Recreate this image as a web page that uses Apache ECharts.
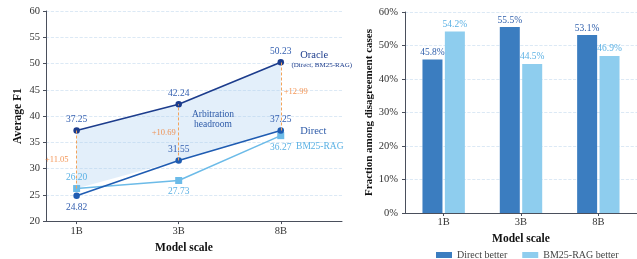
<!DOCTYPE html>
<html>
<head>
<meta charset="utf-8">
<script src="https://cdn.jsdelivr.net/npm/echarts@6/dist/echarts.min.js"></script>
<style>
html, body { margin: 0; padding: 0; background: #fff; }
#main { width: 637px; height: 259px; }
</style>
</head>
<body>
<div id="main"></div>
<script>
var scales = ['1B', '3B', '8B'];
var oracle = [37.25, 42.24, 50.23];
var direct = [24.82, 31.55, 37.25];
var bm25rag = [26.20, 27.73, 36.27];
var headroomGain = [11.05, 10.69, 12.99];
var directBetter = [45.8, 55.5, 53.1];
var bm25Better = [54.2, 44.5, 46.9];
var scaleTicks = [0, 1, 2];

var FONT = '"Liberation Serif", "DejaVu Serif", serif';
var AXIS_COLOR = '#4a4f5c';
var GRID_COLOR = '#d3e3f3';

// lower edge of the headroom band = better of the two single systems
var lower = oracle.map(function(v, i){ return Math.max(direct[i], bm25rag[i]); });

function pts(vals){
    return vals.map(function(v, i){ return [i, v]; });
}

function withLabelPos(vals, positions){
    return vals.map(function(v, i){
        return { value: [i, v], label: { position: positions[i] } };
    });
}

var gapPos = [
    { position: 'left', distance: 8 },
    { position: 'left', distance: 3 },
    { position: 'right', distance: 3, offset: [0, -5] }
];
var gapLabels = oracle.map(function(v, i){
    return {
        value: [i, (v + lower[i]) / 2],
        label: Object.assign({ formatter: '+' + headroomGain[i].toFixed(2) }, gapPos[i])
    };
});

var option = {
    backgroundColor: '#fff',
    animation: false,
    textStyle: { fontFamily: FONT },
    grid: [
        { left: 46, right: 295, top: 11, bottom: 37 },
        { left: 405, right: -6, top: 12, bottom: 46 }
    ],
    legend: {
        data: ['Direct better', 'BM25-RAG better'],
        left: 431, top: 245,
        itemWidth: 16, itemHeight: 6, itemGap: 15,
        icon: 'rect',
        textStyle: { fontFamily: FONT, fontSize: 10, color: '#444' }
    },
    xAxis: [{
        gridIndex: 0, type: 'value', min: -0.3, max: 2.6,
        axisLine: { show: true, onZero: false, lineStyle: { color: AXIS_COLOR } },
        axisTick: { show: true, customValues: scaleTicks, length: 3, lineStyle: { color: AXIS_COLOR } },
        axisLabel: {
            customValues: scaleTicks,
            formatter: function(v){ return scales[Math.round(v)]; },
            color: '#333', fontSize: 10.5, fontFamily: FONT, margin: 5
        },
        splitLine: { show: false },
        name: 'Model scale', nameLocation: 'middle', nameGap: 18,
        nameTextStyle: { fontWeight: 'bold', fontSize: 11.5, color: '#111', fontFamily: FONT, padding: [0, 20, 0, 0] }
    }, {
        gridIndex: 1, type: 'category', data: scales, boundaryGap: true,
        axisLine: { show: true, lineStyle: { color: AXIS_COLOR } },
        axisTick: { show: true, alignWithLabel: true, length: 3, lineStyle: { color: AXIS_COLOR } },
        axisLabel: { color: '#333', fontSize: 10.5, fontFamily: FONT, margin: 4 },
        name: 'Model scale', nameLocation: 'middle', nameGap: 16,
        nameTextStyle: { fontWeight: 'bold', fontSize: 11.5, color: '#111', fontFamily: FONT }
    }],
    yAxis: [{
        gridIndex: 0, type: 'value', min: 20, max: 60, interval: 5,
        axisLine: { show: true, onZero: false, lineStyle: { color: AXIS_COLOR } },
        axisTick: { show: true, length: 3, lineStyle: { color: AXIS_COLOR } },
        axisLabel: { color: '#333', fontSize: 10.5, fontFamily: FONT, margin: 6 },
        splitLine: { show: true, lineStyle: { color: GRID_COLOR, type: 'dashed', width: 0.8 } },
        name: 'Average F1', nameLocation: 'middle', nameGap: 22,
        nameTextStyle: { fontWeight: 'bold', fontSize: 11.5, color: '#111', fontFamily: FONT }
    }, {
        gridIndex: 1, type: 'value', min: 0, max: 60, interval: 10,
        axisLine: { show: true, onZero: false, lineStyle: { color: AXIS_COLOR } },
        axisTick: { show: true, length: 3, lineStyle: { color: AXIS_COLOR } },
        axisLabel: { formatter: '{value}%', color: '#333', fontSize: 10.5, fontFamily: FONT, margin: 7 },
        splitLine: { show: true, lineStyle: { color: GRID_COLOR, type: 'dashed', width: 0.8 } },
        name: 'Fraction among disagreement cases', nameLocation: 'middle', nameGap: 30,
        nameTextStyle: { fontWeight: 'bold', fontSize: 11, color: '#111', fontFamily: FONT }
    }],
    series: [{
        // shaded arbitration headroom between oracle and the better single system
        name: 'band', type: 'custom', xAxisIndex: 0, yAxisIndex: 0,
        data: [[0, lower[0]]], silent: true, z: 1,
        renderItem: function(params, api){
            var top = oracle.map(function(v, i){ return api.coord([i, v]); });
            var bottom = lower.map(function(v, i){ return api.coord([i, v]); }).reverse();
            return {
                type: 'polygon',
                shape: { points: top.concat(bottom) },
                style: { fill: 'rgba(168, 204, 240, 0.32)' }
            };
        }
    }, {
        name: 'Oracle', type: 'line', xAxisIndex: 0, yAxisIndex: 0,
        data: pts(oracle),
        symbol: 'circle', symbolSize: 6.5,
        lineStyle: { color: '#1c3c8c', width: 1.6 },
        itemStyle: { color: '#1c3c8c' },
        label: { show: true, position: 'top', distance: 3, color: '#3560b0', fontSize: 9.5, fontFamily: FONT,
                 formatter: function(p){ return p.value[1].toFixed(2); } },
        markLine: {
            silent: true, symbol: ['none', 'none'],
            lineStyle: { color: '#f3a35a', type: [3, 2], width: 1 },
            label: { show: false },
            data: oracle.map(function(v, i){ return [{ coord: [i, lower[i]] }, { coord: [i, v] }]; })
        },
        markPoint: {
            symbol: 'circle', symbolSize: 0, silent: true,
            data: [
                { coord: [2.19, 51.6], label: { show: true, position: 'right', distance: 0, formatter: 'Oracle', color: '#1c3c8c', fontSize: 10.5, fontFamily: FONT } },
                { coord: [2.105, 49.75], label: { show: true, position: 'right', distance: 0, formatter: '(Direct, BM25-RAG)', color: '#1c3c8c', fontSize: 7, fontFamily: FONT } },
                { coord: [1.336, 39.3], label: { show: true, position: 'inside', formatter: 'Arbitration\nheadroom', color: '#2d5aa8', fontSize: 9.5, lineHeight: 10, align: 'center', fontFamily: FONT } }
            ]
        },
        z: 4
    }, {
        name: 'Direct', type: 'line', xAxisIndex: 0, yAxisIndex: 0,
        data: withLabelPos(direct, ['bottom', 'top', 'top']),
        symbol: 'circle', symbolSize: 6.5,
        lineStyle: { color: '#1f5cb2', width: 1.6 },
        itemStyle: { color: '#1f5cb2' },
        label: { show: true, distance: 3, color: '#3560b0', fontSize: 9.5, fontFamily: FONT,
                 formatter: function(p){ return p.value[1].toFixed(2); } },
        markPoint: {
            symbol: 'circle', symbolSize: 0, silent: true,
            data: [
                { coord: [2.19, 37.1], label: { show: true, position: 'right', distance: 0, formatter: 'Direct', color: '#2d5aa8', fontSize: 10.5, fontFamily: FONT } }
            ]
        },
        z: 4
    }, {
        name: 'BM25-RAG', type: 'line', xAxisIndex: 0, yAxisIndex: 0,
        data: withLabelPos(bm25rag, ['top', 'bottom', 'bottom']),
        symbol: 'rect', symbolSize: 7,
        lineStyle: { color: '#6cbbe8', width: 1.5 },
        itemStyle: { color: '#6cbbe8' },
        label: { show: true, distance: 3, color: '#5bb1e4', fontSize: 9.5, fontFamily: FONT,
                 formatter: function(p){ return p.value[1].toFixed(2); } },
        markPoint: {
            symbol: 'circle', symbolSize: 0, silent: true,
            data: [
                { coord: [2.15, 34.25], label: { show: true, position: 'right', distance: 0, formatter: 'BM25-RAG', color: '#5bb1e4', fontSize: 9.5, fontFamily: FONT } }
            ]
        },
        z: 3
    }, {
        name: 'gap labels', type: 'scatter', xAxisIndex: 0, yAxisIndex: 0,
        data: gapLabels, symbolSize: 0, silent: true,
        label: { show: true, color: '#f07a2a', fontSize: 8.5, fontFamily: FONT },
        z: 5
    }, {
        name: 'Direct better', type: 'bar', xAxisIndex: 1, yAxisIndex: 1,
        data: directBetter, barWidth: 20, barGap: '12%',
        itemStyle: { color: '#3b7dc0' },
        label: { show: true, position: 'top', distance: 2, color: '#2f5fab', fontSize: 9.5, fontFamily: FONT,
                 formatter: function(p){ return p.value.toFixed(1) + '%'; } }
    }, {
        name: 'BM25-RAG better', type: 'bar', xAxisIndex: 1, yAxisIndex: 1,
        data: bm25Better, barWidth: 20,
        itemStyle: { color: '#8ecdee' },
        label: { show: true, position: 'top', distance: 2, color: '#5bb1e4', fontSize: 9.5, fontFamily: FONT,
                 formatter: function(p){ return p.value.toFixed(1) + '%'; } }
    }]
};

var myChart = echarts.init(document.getElementById('main'));
myChart.setOption(option);
</script>
</body>
</html>
